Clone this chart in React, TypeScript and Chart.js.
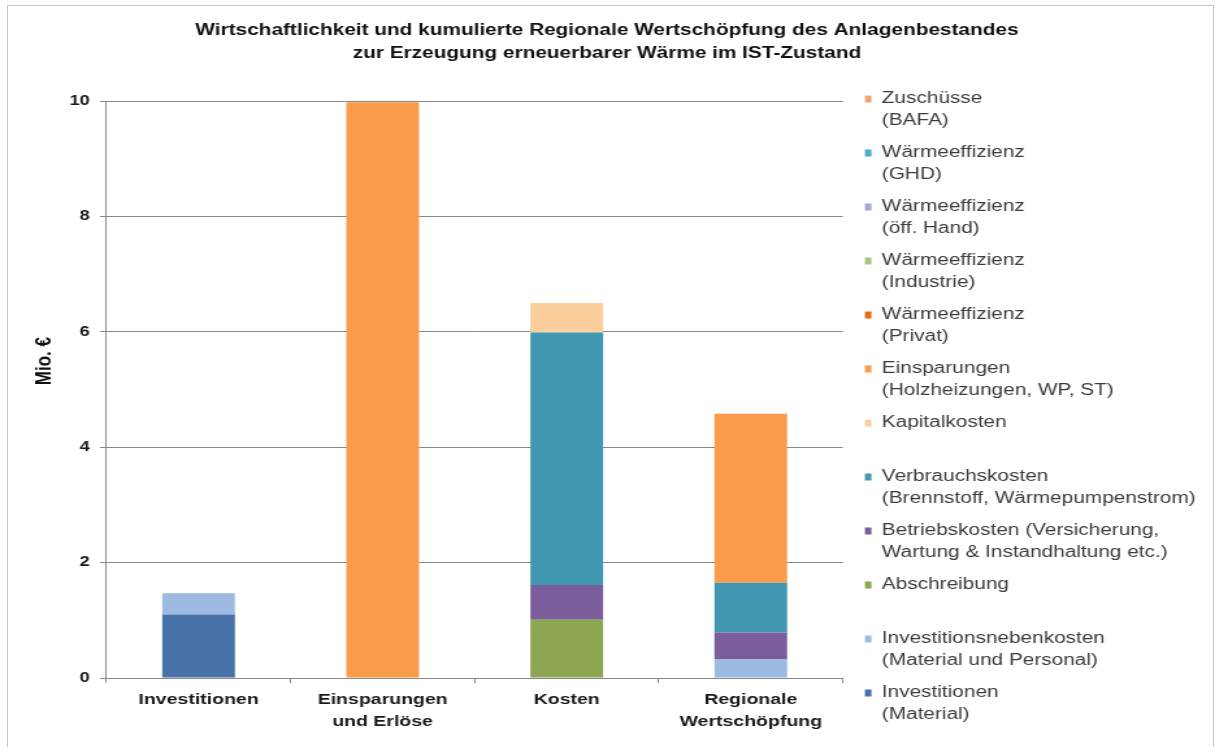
import React, { useEffect, useRef } from 'react';
import { Chart, registerables } from 'chart.js';

Chart.register(...registerables);

const FAMILY = "'Liberation Sans', Arial, sans-serif";

// ---------- data ----------
const CATEGORIES = [['Investitionen'], ['Einsparungen', 'und Erlöse'], ['Kosten'], ['Regionale', 'Wertschöpfung']];
const TITLE_LINES = [
  'Wirtschaftlichkeit und kumulierte Regionale Wertschöpfung des Anlagenbestandes',
  'zur Erzeugung erneuerbarer Wärme im IST-Zustand',
];
const Y_TITLE = 'Mio. €';
const Y_MIN = 0;
const Y_MAX = 10;
const Y_STEP = 2;

// series, bottom of the stack first (values in Mio. €)
const INVESTITIONEN_MATERIAL = [1.1, 0, 0, 0];
const INVESTITIONSNEBENKOSTEN = [0.37, 0, 0, 0.33];
const ABSCHREIBUNG = [0, 0, 1.01, 0];
const BETRIEBSKOSTEN = [0, 0, 0.6, 0.46];
const VERBRAUCHSKOSTEN = [0, 0, 4.38, 0.86];
const KAPITALKOSTEN = [0, 0, 0.51, 0];
const EINSPARUNGEN = [0, 9.98, 0, 2.93];
const WE_PRIVAT = [0, 0, 0, 0];
const WE_INDUSTRIE = [0, 0, 0, 0];
const WE_OEFF_HAND = [0, 0, 0, 0];
const WE_GHD = [0, 0, 0, 0];
const ZUSCHUESSE = [0, 0, 0, 0];

const SERIES_LABELS = [
  ['Investitionen', '(Material)'],
  ['Investitionsnebenkosten', '(Material und Personal)'],
  ['Abschreibung', ''],
  ['Betriebskosten (Versicherung,', 'Wartung & Instandhaltung etc.)'],
  ['Verbrauchskosten', '(Brennstoff, Wärmepumpenstrom)'],
  ['Kapitalkosten', ''],
  ['Einsparungen', '(Holzheizungen, WP, ST)'],
  ['Wärmeeffizienz', '(Privat)'],
  ['Wärmeeffizienz', '(Industrie)'],
  ['Wärmeeffizienz', '(öff. Hand)'],
  ['Wärmeeffizienz', '(GHD)'],
  ['Zuschüsse', '(BAFA)'],
];
const SERIES_VALUES = [
  INVESTITIONEN_MATERIAL,
  INVESTITIONSNEBENKOSTEN,
  ABSCHREIBUNG,
  BETRIEBSKOSTEN,
  VERBRAUCHSKOSTEN,
  KAPITALKOSTEN,
  EINSPARUNGEN,
  WE_PRIVAT,
  WE_INDUSTRIE,
  WE_OEFF_HAND,
  WE_GHD,
  ZUSCHUESSE,
];
const SERIES_COLORS = [
  '#4771a8',
  '#9dbbe2',
  '#8ca651',
  '#7b5d9c',
  '#4297b0',
  '#fbcf9c',
  '#f99b4a',
  '#e46c0a',
  '#a9c47f',
  '#a3a9d4',
  '#4bacc6',
  '#eda56f',
];

// ---------- layout ----------
const CSS_W = 1215;
const CSS_H = 747;
const INNER_W = 935; // drawn narrower, then stretched horizontally like the source picture
const LEGEND_LEFT = 655.6;
const LEGEND_PAD = 10;
const LEGEND_BOX_W = 5;
const LEGEND_FONT_SIZE = 16;
const GRID = '#888888';
const Y_TITLE_LEAD = 12; // leading spaces move the centred axis title upwards

export default function App() {
  const ref = useRef<HTMLCanvasElement>(null);

  useEffect(() => {
    const canvas = ref.current;
    if (!canvas) return;

    const m = document.createElement('canvas').getContext('2d')!;
    m.font = `normal ${LEGEND_FONT_SIZE}px ${FAMILY}`;
    let maxText = 0;
    for (const lines of SERIES_LABELS) {
      const longest = lines.reduce((a, b) => (a.length > b.length ? a : b));
      maxText = Math.max(maxText, m.measureText(longest).width);
    }
    const legendWidth = LEGEND_PAD + LEGEND_BOX_W + LEGEND_FONT_SIZE / 2 + maxText + 10;
    const padRight = Math.max(0, INNER_W - LEGEND_LEFT - legendWidth);

    const chart = new Chart(canvas, {
      type: 'bar',
      data: {
        labels: CATEGORIES as any,
        datasets: SERIES_VALUES.map((vals, i) => ({
          label: SERIES_LABELS[i] as any,
          data: vals,
          backgroundColor: SERIES_COLORS[i],
          borderWidth: 0,
          categoryPercentage: 0.79,
          barPercentage: 0.5,
        })),
      },
      options: {
        responsive: false,
        devicePixelRatio: 1,
        animation: false,
        events: [],
        layout: { padding: { left: 4, right: padRight, top: 0, bottom: 8 } },
        plugins: {
          title: {
            display: true,
            text: TITLE_LINES,
            color: '#111',
            font: { family: FAMILY, size: 16, weight: 'bold', lineHeight: '23px' },
            padding: { top: 19.5, bottom: 35.5 },
          },
          legend: {
            position: 'right',
            align: 'end',
            reverse: true,
            maxWidth: 400,
            labels: {
              boxWidth: LEGEND_BOX_W,
              boxHeight: 7,
              padding: LEGEND_PAD,
              color: '#3c3c3c',
              font: { family: FAMILY, size: LEGEND_FONT_SIZE, lineHeight: '22px' },
            },
          },
          tooltip: { enabled: false },
        },
        scales: {
          x: {
            stacked: true,
            grid: {
              display: true,
              drawOnChartArea: false,
              drawTicks: true,
              tickLength: 5,
              color: GRID,
              offset: true,
            },
            border: { display: true, color: GRID },
            ticks: {
              padding: 6,
              maxRotation: 0,
              autoSkip: false,
              color: '#1a1a1a',
              font: { family: FAMILY, size: 15, weight: 'bold', lineHeight: '22px' },
            },
          },
          y: {
            stacked: true,
            min: Y_MIN,
            max: Y_MAX,
            ticks: {
              stepSize: Y_STEP,
              padding: 8,
              color: '#1a1a1a',
              font: { family: FAMILY, size: 14, weight: 'bold' },
            },
            grid: { color: GRID, tickLength: 5 },
            border: { display: true, color: GRID },
            title: {
              display: true,
              text: ' '.repeat(Y_TITLE_LEAD) + Y_TITLE,
              color: '#111',
              font: { family: FAMILY, size: 17, weight: 'bold', lineHeight: '18px' },
              padding: { top: 21, bottom: 2.4 },
            },
          },
          y2: {
            position: 'right',
            display: true,
            grid: { display: false, drawTicks: true, tickLength: 7 },
            border: { display: false },
            ticks: { display: false },
          },
        },
      },
    } as any);

    return () => chart.destroy();
  }, []);

  return (
    <div
      style={{
        position: 'fixed',
        left: 0,
        top: 0,
        width: CSS_W,
        height: CSS_H,
        background: '#fff',
        overflow: 'hidden',
      }}
    >
      <div
        style={{
          position: 'absolute',
          left: 7,
          top: 5,
          width: 1205,
          height: 800,
          border: '1px solid #c4c4c4',
        }}
      />
      <canvas
        ref={ref}
        width={INNER_W}
        height={CSS_H}
        style={{ position: 'absolute', left: 0, top: 0, width: `${CSS_W}px`, height: `${CSS_H}px` }}
      />
    </div>
  );
}
